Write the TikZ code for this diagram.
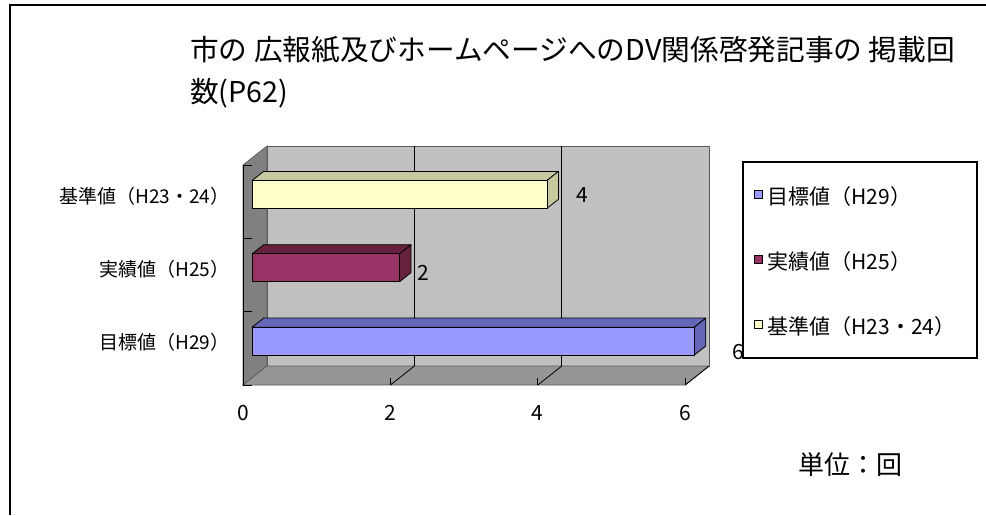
\documentclass[tikz,border=0pt]{standalone}
\usepackage{fontspec}
\setmainfont{Noto Sans CJK JP}
\usetikzlibrary{positioning}

\definecolor{backwall}{HTML}{C0C0C0}
\definecolor{sidewall}{HTML}{808080}
\definecolor{floorc}{HTML}{969696}
\definecolor{wallline}{HTML}{5A5A5A}
\definecolor{mokuhyo}{HTML}{9999FF}
\definecolor{mokuhyod}{HTML}{6666B8}
\definecolor{jisseki}{HTML}{993366}
\definecolor{jissekid}{HTML}{66213F}
\definecolor{kijun}{HTML}{FFFFCC}
\definecolor{kijund}{HTML}{C8C89E}

\tikzstyle{wall}=[draw=wallline,line width=0.7pt]
\tikzstyle{bar}=[draw=black,line width=0.8pt,line join=round]
\tikzstyle{catlab}=[anchor=east,inner sep=0pt,font=\fontsize{19}{19}\selectfont]
\tikzstyle{numlab}=[inner sep=0pt,font=\fontsize{21}{21}\selectfont]
\tikzstyle{legkey}=[draw=black,line width=0.7pt,minimum size=8pt,inner sep=0pt]
\tikzstyle{legtxt}=[anchor=west,inner sep=0pt,font=\fontsize{21}{21}\selectfont]
\tikzstyle{ttl}=[anchor=base west,inner sep=0pt,font=\fontsize{28.7}{28.7}\selectfont]
\def\fa{0.38}
\def\fb{0.86}
\def\bh{0.19}

\begin{document}
\begin{tikzpicture}[x=1pt,y=-1pt]
\useasboundingbox (0,0) rectangle (986,515);
\draw[line width=2pt] (10,515) -- (10,5) -- (986,5);

\node[ttl] (ttl1) at (190,60) {市の 広報紙及びホームページへのDV関係啓発記事の 掲載回};
\node[ttl] (ttl2) at (190,102) {数(P62)};

% chart body: x = value, y = category, z = depth
\begin{scope}[shift={(243,385)},x={(73.7pt,0pt)},y={(0pt,73.33pt)},z={(24pt,19pt)}]
	\filldraw[wall,fill=backwall] (0,0,1) -- (6,0,1) -- (6,3,1) -- (0,3,1) -- cycle;
	\filldraw[wall,fill=sidewall] (0,0,0) -- (0,0,1) -- (0,3,1) -- (0,3,0) -- cycle;
	\filldraw[wall,fill=floorc] (0,0,0) -- (6,0,0) -- (6,0,1) -- (0,0,1) -- cycle;
	\foreach \v in {2,4} {
		\draw[black,line width=0.8pt] (\v,0,1) -- (\v,3,1);
	}
	\foreach \v in {2,4,6} {
		\draw[black,line width=0.8pt] (\v,0,0) -- (\v,0,1);
		\draw[black,line width=0.8pt] (\v,0,0) -- (\v,0.1,0);
	}
	\foreach \c in {0,...,3} {
		\draw[black,line width=0.8pt] (0,\c,0) -- (0.12,\c,0);
	}
	\draw[black,line width=0.9pt] (0,0,0) -- (0,3,0);
	\foreach \val/\row/\fc/\dc/\name in {6/0/mokuhyo/mokuhyod/目標値（H29）,2/1/jisseki/jissekid/実績値（H25）,4/2/kijun/kijund/基準値（H23・24）} {
		\pgfmathsetmacro{\lo}{\row+0.5-\bh}
		\pgfmathsetmacro{\hi}{\row+0.5+\bh}
		\filldraw[bar,fill=\dc] (0,\hi,\fa) -- (\val,\hi,\fa) -- (\val,\hi,\fb) -- (0,\hi,\fb) -- cycle;
		\filldraw[bar,fill=\dc] (\val,\lo,\fa) -- (\val,\lo,\fb) -- (\val,\hi,\fb) -- (\val,\hi,\fa) -- cycle;
		\filldraw[bar,fill=\fc] (0,\lo,\fa) rectangle (\val,\hi,\fa);
		\node[catlab] (cat\row) at (-0.28,\row+0.5,0.3) {\name};
	}
	\foreach \v in {0,2,4,6} {
		\node[numlab] (x\v) at (\v,-0.38,0) {\v};
	}
\end{scope}

\node[numlab] (val4) at (582,195) {4};
\node[numlab] (val2) at (423,273) {2};
\node[numlab] (val6) at (738,352) {6};

% legend
\draw[line width=1.2pt,fill=white] (743,162) rectangle (977,358);
\node[legkey,fill=mokuhyo] (k1) at (758,194) {};
\node[legkey,fill=jisseki] (k2) at (758,259) {};
\node[legkey,fill=kijun] (k3) at (758,324) {};
\node[legtxt,right=5pt of k1,yshift=-3pt] (t1) {目標値（H29）};
\node[legtxt,right=5pt of k2,yshift=-3pt] (t2) {実績値（H25）};
\node[legtxt,right=5pt of k3,yshift=-3pt] (t3) {基準値（H23・24）};

\node[anchor=west,inner sep=0pt,font=\fontsize{26}{26}\selectfont] (unit) at (798,465) {単位：回};
\end{tikzpicture}
\end{document}
